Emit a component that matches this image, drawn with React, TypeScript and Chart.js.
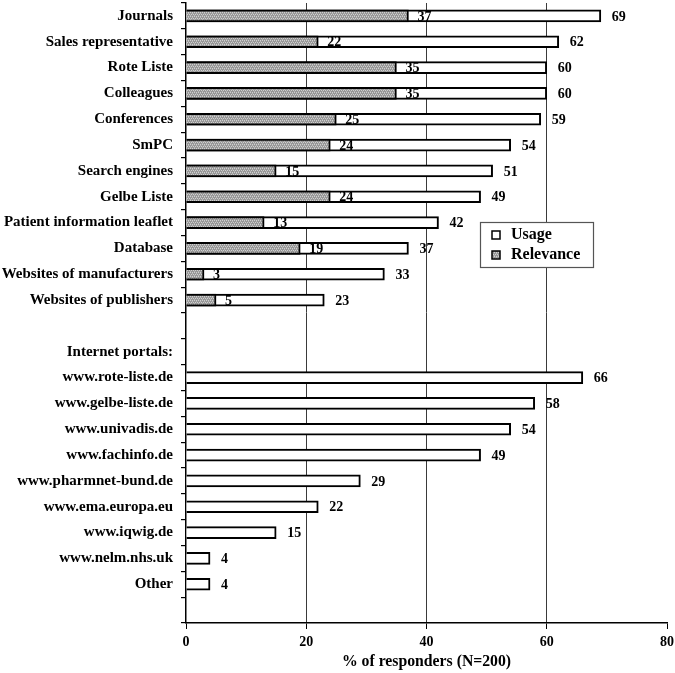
import React, { useEffect, useRef } from 'react';
import { Chart, registerables } from 'chart.js';

Chart.register(...registerables);

const categories = [
  'Journals',
  'Sales representative',
  'Rote Liste',
  'Colleagues',
  'Conferences',
  'SmPC',
  'Search engines',
  'Gelbe Liste',
  'Patient information leaflet',
  'Database',
  'Websites of manufacturers',
  'Websites of publishers',
  '',
  'Internet portals:',
  'www.rote-liste.de',
  'www.gelbe-liste.de',
  'www.univadis.de',
  'www.fachinfo.de',
  'www.pharmnet-bund.de',
  'www.ema.europa.eu',
  'www.iqwig.de',
  'www.nelm.nhs.uk',
  'Other',
  '',
];

const usage = [69, 62, 60, 60, 59, 54, 51, 49, 42, 37, 33, 23, null, null, 66, 58, 54, 49, 29, 22, 15, 4, 4, null];
const relevance = [37, 22, 35, 35, 25, 24, 15, 24, 13, 19, 3, 5, null, null, null, null, null, null, null, null, null, null, null, null];

const seriesNames = ['Usage', 'Relevance'];
const xTicks = [0, 20, 40, 60, 80];
const xTitle = '% of responders (N=200)';

const FONT = '"Liberation Serif", "Times New Roman", serif';

function makePattern(): CanvasPattern | string {
  const c = document.createElement('canvas');
  c.width = 4;
  c.height = 4;
  const g = c.getContext('2d');
  if (!g) return '#a8a8a8';
  g.fillStyle = '#979797';
  g.fillRect(0, 0, 4, 4);
  g.fillStyle = '#cfcfcf';
  g.fillRect(0, 0, 1, 1);
  g.fillRect(2, 0, 1, 1);
  g.fillRect(1, 2, 1, 1);
  g.fillRect(3, 2, 1, 1);
  g.fillStyle = '#b4b4b4';
  g.fillRect(0, 1, 1, 1);
  g.fillRect(2, 3, 1, 1);
  const p = g.createPattern(c, 'repeat');
  return p || '#a8a8a8';
}

const valueLabels = {
  id: 'valueLabels',
  afterDatasetsDraw(chart: any) {
    const ctx = chart.ctx;
    ctx.save();
    ctx.font = `bold 14px ${FONT}`;
    ctx.fillStyle = '#000';
    ctx.textBaseline = 'middle';
    ctx.textAlign = 'left';
    chart.data.datasets.forEach((ds: any, di: number) => {
      const meta = chart.getDatasetMeta(di);
      meta.data.forEach((el: any, i: number) => {
        const v = ds.data[i];
        if (v == null) return;
        const off = ds.label === 'Usage' ? 11 : 9;
        ctx.fillText(String(v), el.x + off, el.y + 1);
      });
    });
    ctx.restore();
  },
};

const boxLegend = {
  id: 'boxLegend',
  afterDraw(chart: any) {
    const ctx = chart.ctx;
    const ca = chart.chartArea;
    const left = ca.left + 294;
    const top = ca.top + 219;
    const w = 113;
    const h = 45;
    ctx.save();
    ctx.fillStyle = '#fff';
    ctx.fillRect(left, top, w, h);
    ctx.strokeStyle = '#555';
    ctx.lineWidth = 1.2;
    ctx.strokeRect(left + 0.5, top + 0.5, w, h);
    const fills = ['#ffffff', chart.data.datasets[1].backgroundColor];
    ctx.font = `bold 16px ${FONT}`;
    ctx.textBaseline = 'middle';
    ctx.textAlign = 'left';
    seriesNames.forEach((name, i) => {
      const cy = top + 13 + i * 20;
      ctx.fillStyle = fills[i];
      ctx.fillRect(left + 12, cy - 4, 8, 8);
      ctx.strokeStyle = '#000';
      ctx.lineWidth = 1.5;
      ctx.strokeRect(left + 12, cy - 4, 8, 8);
      ctx.fillStyle = '#000';
      ctx.fillText(name, left + 31, cy);
    });
    ctx.restore();
  },
};

export default function App() {
  const ref = useRef<HTMLCanvasElement | null>(null);

  useEffect(() => {
    if (!ref.current) return;
    const pattern = makePattern();
    const chart = new Chart(ref.current, {
      type: 'bar',
      data: {
        labels: categories,
        datasets: [
          {
            label: seriesNames[0],
            data: usage,
            backgroundColor: '#ffffff',
            borderColor: '#000000',
            borderWidth: 2,
            barThickness: 12,
            grouped: false,
            order: 1,
          } as any,
          {
            label: seriesNames[1],
            data: relevance,
            backgroundColor: pattern,
            borderColor: '#000000',
            borderWidth: 2,
            barThickness: 12,
            grouped: false,
            order: 0,
          } as any,
        ],
      },
      options: {
        indexAxis: 'y',
        animation: false,
        responsive: false,
        maintainAspectRatio: false,
        layout: { padding: { top: 3, right: 8, left: 0, bottom: 0 } },
        plugins: {
          legend: { display: false },
          tooltip: { enabled: false },
        },
        scales: {
          x: {
            type: 'linear',
            min: 0,
            max: 80,
            afterBuildTicks: (scale: any) => {
              scale.ticks = xTicks.map((v) => ({ value: v }));
            },
            afterFit: (scale: any) => {
              scale.height = 50;
              scale.paddingLeft = 0;
              scale.paddingRight = 0;
            },
            ticks: {
              color: '#000',
              font: { family: FONT, size: 14, weight: 'bold' },
              padding: 5,
            },
            grid: {
              color: (c: any) => (c.tick && (c.tick.value === 0 || c.tick.value === 80) ? 'rgba(0,0,0,0)' : '#3a3a3a'),
              tickColor: '#000',
              tickLength: 6,
              lineWidth: 1,
            },
            border: { color: '#000', width: 1.5 },
            title: {
              display: true,
              text: xTitle,
              color: '#000',
              font: { family: FONT, size: 15.75, weight: 'bold' },
              padding: { top: 2, bottom: 2 },
            },
          },
          y: {
            type: 'category',
            offset: true,
            afterFit: (scale: any) => {
              scale.width = 186;
              scale.paddingTop = 0;
              scale.paddingBottom = 0;
            },
            ticks: {
              color: '#000',
              font: { family: FONT, size: 15, weight: 'bold' },
              padding: 8,
              autoSkip: false,
            },
            grid: {
              offset: true,
              drawOnChartArea: false,
              tickColor: '#000',
              tickLength: 5,
              lineWidth: 1.2,
            },
            border: { color: '#000', width: 1.5 },
          },
        },
      } as any,
      plugins: [valueLabels, boxLegend],
    });
    return () => chart.destroy();
  }, []);

  return (
    <div style={{ position: 'absolute', left: 0, top: 0, width: 675, height: 673, background: '#fff' }}>
      <canvas ref={ref} width={675} height={673} style={{ display: 'block' }} />
    </div>
  );
}
